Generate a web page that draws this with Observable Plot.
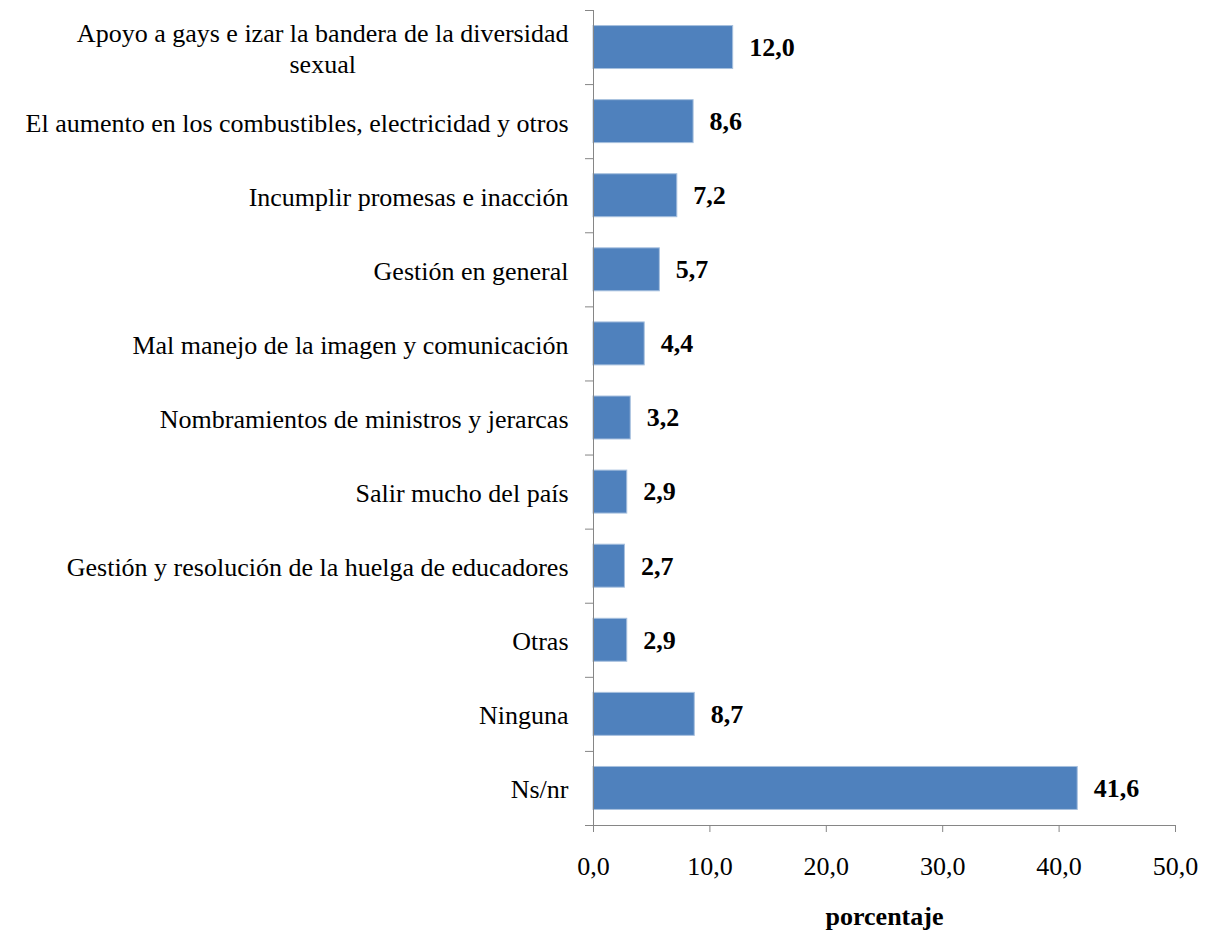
<!DOCTYPE html>
<html>
<head>
<meta charset="utf-8">
<script src="https://cdn.jsdelivr.net/npm/d3@7"></script>
<script src="https://cdn.jsdelivr.net/npm/@observablehq/plot@0.6"></script>
<style>
  html, body { margin: 0; padding: 0; background: #fff; }
  svg, svg text { font-family: "Liberation Serif", "Times New Roman", serif !important; }
</style>
</head>
<body>
<div id="chart"></div>
<script>
const categories = [
  "Apoyo a gays e izar la bandera de la diversidad\nsexual",
  "El aumento en los combustibles, electricidad y otros",
  "Incumplir promesas e inacción",
  "Gestión en general",
  "Mal manejo de la imagen y comunicación",
  "Nombramientos de ministros y jerarcas",
  "Salir mucho del país",
  "Gestión y resolución de la huelga de educadores",
  "Otras",
  "Ninguna",
  "Ns/nr"
];
const values = [12.0, 8.6, 7.2, 5.7, 4.4, 3.2, 2.9, 2.7, 2.9, 8.7, 41.6];
const xTicks = [0, 10, 20, 30, 40, 50];

const FONT = '"Liberation Serif", "Times New Roman", serif';
const FS = 26;
const canvas = document.createElement("canvas");
const ctx = canvas.getContext("2d");
ctx.font = `${FS}px ${FONT}`;
const labelGap = 25;

const data = categories.map((c, i) => {
  const lines = c.split("\n");
  const w = Math.max(...lines.map(l => ctx.measureText(l).width));
  return { cat: c, i, value: values[i], w };
});
const pad = 0.21;
const fmt = v => v.toFixed(1).replace(".", ",");

const chart = Plot.plot({
  width: 1206,
  height: 931,
  marginLeft: 593,
  marginRight: 31,
  marginTop: 10,
  marginBottom: 106,
  style: { fontFamily: FONT, fontSize: FS + "px", color: "#000", background: "#fff" },
  x: { domain: [0, 50] },
  y: { domain: [categories.length, 0], axis: null },
  marks: [
    Plot.rectX(data, {
      x1: 0, x2: "value",
      y1: d => d.i + pad, y2: d => d.i + 1 - pad,
      fill: "#4F81BD", stroke: "#A7C0DE", strokeWidth: 1
    }),
    Plot.text(data, {
      x: "value", y: d => d.i + 0.5,
      text: d => fmt(d.value),
      textAnchor: "start", dx: 16,
      fontWeight: "bold", fontSize: FS, fill: "#000"
    }),
    Plot.text(data, {
      x: 0, y: d => d.i + 0.5,
      text: "cat",
      textAnchor: "middle",
      fontSize: FS, fill: "#000", lineHeight: 1.2,
      render: (index, scales, values2, dims, context, next) => {
        const g = next(index, scales, values2, dims, context);
        d3.select(g).selectAll("text").each(function (_, k) {
          const d = data[index[k]];
          const t = d3.select(this);
          const tr = t.attr("transform");
          t.attr("transform", (tr ? tr + " " : "") + `translate(${-(labelGap + d.w / 2)},0)`);
        });
        return g;
      }
    }),
    Plot.axisY({
      ticks: d3.range(0, categories.length + 1),
      tickSize: 8, tickFormat: () => "", stroke: "#868686", label: null
    }),
    Plot.ruleX([0], { stroke: "#868686" }),
    Plot.ruleY([categories.length], { stroke: "#868686" }),
    Plot.axisX({
      ticks: xTicks, tickSize: 7, tickPadding: 24,
      tickFormat: fmt, stroke: "#868686",
      label: "porcentaje", labelAnchor: "center", labelArrow: "none",
      labelOffset: 99
    })
  ]
});
d3.select(chart).selectAll("text").attr("font-family", FONT);
d3.select(chart).selectAll("g[aria-label='x-axis tick label']").attr("fill", "#000");
d3.select(chart).selectAll("g[aria-label='x-axis label']").attr("fill", "#000").attr("font-weight", "bold");
document.getElementById("chart").appendChild(chart);
</script>
</body>
</html>
